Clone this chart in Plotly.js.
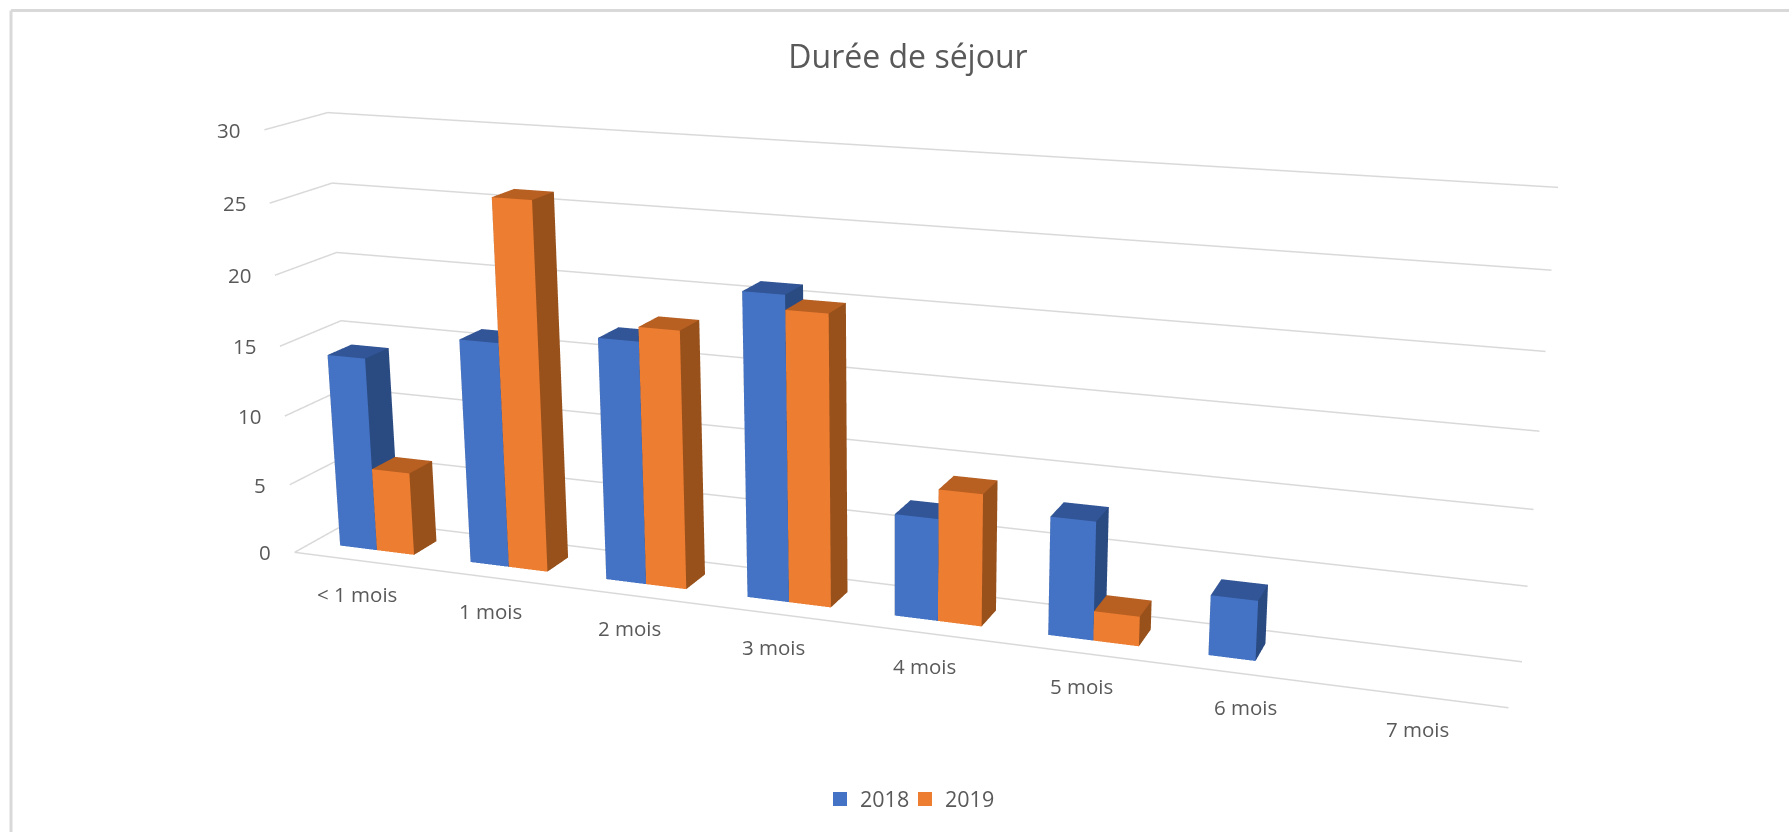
<!DOCTYPE html>
<html><head><meta charset="utf-8">
<script src="https://cdn.plot.ly/plotly-3.0.1.min.js"></script>
<style>html,body{margin:0;padding:0;background:#fff;overflow:hidden;width:1789px;height:832px}
#chart{position:absolute;left:0;top:-599px;width:1789px;height:2030px}</style></head>
<body><div id="chart"></div>
<script>
const categories=['< 1 mois','1 mois','2 mois','3 mois','4 mois','5 mois','6 mois','7 mois'];
const values2018=[14,16,17,21,7,8,4,0];
const values2019=[6,26,18,20,9,2,0,0];
const valueTicks=[0,5,10,15,20,25,30];
const seriesNames=['2018','2019'];
const W=1789,H=2030,TOP=599;
const py=y=>(H-(y+TOP))/H; const px=x=>x/W;
function bars(vals,offset,cols){
  const x=[],y=[],z=[],i=[],j=[],k=[],fc=[];
  const w=0.2857,y0=0.3,y1=0.7;
  vals.forEach((v,c)=>{ if(!v) return;
    const a=c+offset,b=a+w,n=x.length;
    [[a,y0,0],[b,y0,0],[b,y1,0],[a,y1,0],[a,y0,v],[b,y0,v],[b,y1,v],[a,y1,v]].forEach(p=>{x.push(p[0]);y.push(p[1]);z.push(p[2]);});
    const tri=(p,q,r,col)=>{i.push(n+p);j.push(n+q);k.push(n+r);fc.push(col);};
    tri(0,1,5,cols.front);tri(0,5,4,cols.front);
    tri(1,2,6,cols.side);tri(1,6,5,cols.side);
    tri(4,5,6,cols.top);tri(4,6,7,cols.top);
    tri(0,3,7,cols.side);tri(0,7,4,cols.side);
    tri(3,2,6,cols.side);tri(3,6,7,cols.side);
  });
  return {type:'mesh3d',x,y,z,i,j,k,facecolor:fc,flatshading:true,hoverinfo:'skip',showlegend:false,showscale:false,
    lighting:{ambient:1,diffuse:0,specular:0,roughness:1,fresnel:0},lightposition:{x:0,y:0,z:1000}};
}
const gx=[],gy=[],gz=[];
valueTicks.forEach(v=>{gx.push(0,0,8,NaN);gy.push(0,1,1,NaN);gz.push(v,v,v,NaN);});
gx.push(0,8);gy.push(0,0);gz.push(0,0);
const grid={type:'scatter3d',mode:'lines',x:gx,y:gy,z:gz,line:{color:'#d9d9d9',width:3},hoverinfo:'skip',showlegend:false,connectgaps:false};
const leg=(name,c,l)=>({type:'scatter3d',mode:'markers',name,legend:l,x:[NaN],y:[NaN],z:[NaN],marker:{symbol:'square',size:14,color:c}});
const annFont={family:'"Open Sans",sans-serif',size:20.5,color:'#595959'};
const legFont={family:'"Open Sans",sans-serif',size:21.5,color:'#595959'};
const ann=[];
valueTicks.forEach(v=>ann.push({x:0,y:0,z:v,text:String(v),showarrow:false,xanchor:'right',yanchor:'middle',xshift:-22,yshift:0,font:annFont}));
categories.forEach((t,c)=>ann.push({x:c+0.5,y:0,z:0,text:t,showarrow:false,xanchor:'center',yanchor:'middle',xshift:-2,yshift:-33,font:annFont}));
const frameLine=(x0,y0,x1,y1)=>({type:'line',xref:'paper',yref:'paper',x0:px(x0),x1:px(x1),y0:py(y0),y1:py(y1),line:{color:'#d9d9d9',width:3}});
const legendAt=x=>({orientation:'h',x:px(x),xanchor:'left',y:py(799),yanchor:'middle',font:legFont,itemsizing:'trace',bgcolor:'rgba(0,0,0,0)'});
const layout={width:W,height:H,margin:{l:0,r:0,t:0,b:0},paper_bgcolor:'#fff',
 title:{text:'Durée de séjour',font:{family:'"Open Sans",sans-serif',size:32,color:'#595959'},x:px(908),xanchor:'center',y:py(57),yanchor:'middle',yref:'container'},
 legend:legendAt(820),legend2:legendAt(905),
 scene:{domain:{x:[0,1],y:[0,1]},aspectmode:'manual',aspectratio:{x:2.79,y:0.26,z:1.0},
  camera:{eye:{x:1.76,y:-4.79,z:1.40},center:{x:0.055,y:0.002,z:-0.0625},up:{x:0,y:0,z:1},projection:{type:'perspective'}},
  xaxis:{visible:false,range:[0,8]},yaxis:{visible:false,range:[0,1]},zaxis:{visible:false,range:[0,30]},annotations:ann},
 shapes:[frameLine(11,10.5,1789,10.5),frameLine(11,10.5,11,840)]
};
const blue={front:'#4472c4',top:'#315596',side:'#2a4a82'},orange={front:'#ed7d31',top:'#b85f22',side:'#99511c'};
Plotly.newPlot('chart',[grid,bars(values2018,0.2143,blue),bars(values2019,0.5,orange),leg(seriesNames[0],'#4472c4','legend'),leg(seriesNames[1],'#ed7d31','legend2')],layout,{displayModeBar:false});
</script></body></html>
